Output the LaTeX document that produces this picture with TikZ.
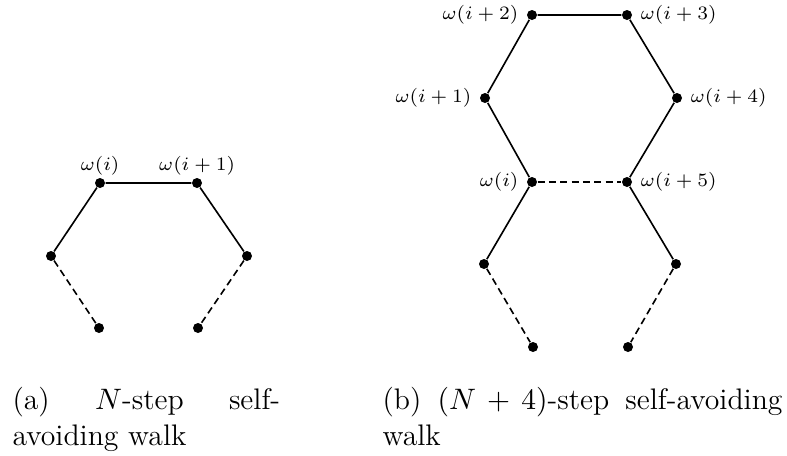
\documentclass[tikz,border=0pt]{standalone}
\usepackage{amsmath, amssymb}
\usepackage{tikz}

\begin{document}
\begin{tikzpicture}[x=0.37pt, y=-0.37pt,
  dot/.style={circle, fill, inner sep=0pt, minimum size=3.7pt},
  walk/.style={line width=0.6pt},
  gap/.style={line width=0.6pt, dash pattern=on 2.6pt off 1.6pt},
  lab/.style={font=\fontsize{7.5}{9}\selectfont, inner sep=0.5pt},
  side/.style={lab, label distance=2.3pt},
  captext/.style={anchor=north west, inner sep=0pt, align=justify, font=\fontsize{11}{13.3}\selectfont}]
\useasboundingbox (0,0) rectangle (787,455);
% (a) N-step walk
\node[dot, label={[lab]above:$\omega(i)$}] (a0) at (100,183) {};
\node[dot, label={[lab]above:$\omega(i+1)$}] (a1) at (197,183) {};
\node[dot] (a2) at (51,256) {};
\node[dot] (a3) at (247,256) {};
\node[dot] (a4) at (99,328) {};
\node[dot] (a5) at (198,328) {};
\draw[walk] (a2) -- (a0) -- (a1) -- (a3);
\draw[gap] (a2) -- (a4);
\draw[gap] (a3) -- (a5);
% (b) (N+4)-step walk
\node[dot, label={[side]left:$\omega(i)$}] (b0) at (532,182) {};
\node[dot, label={[side]left:$\omega(i+1)$}] (b1) at (485,98) {};
\node[dot, label={[side]left:$\omega(i+2)$}] (b2) at (532,15) {};
\node[dot, label={[side]right:$\omega(i+3)$}] (b3) at (627,15) {};
\node[dot, label={[side]right:$\omega(i+4)$}] (b4) at (677,98) {};
\node[dot, label={[side]right:$\omega(i+5)$}] (b5) at (627,182) {};
\node[dot] (b6) at (484,264) {};
\node[dot] (b7) at (676,264) {};
\node[dot] (b8) at (533,347) {};
\node[dot] (b9) at (628,347) {};
\draw[walk] (b0) -- (b1) -- (b2) -- (b3) -- (b4) -- (b5);
\draw[walk] (b0) -- (b6);
\draw[walk] (b5) -- (b7);
\draw[gap] (b0) -- (b5);
\draw[gap] (b6) -- (b8);
\draw[gap] (b7) -- (b9);
% captions
\node[captext, text width=99pt] (capa) at (12,387) {(a) \mbox{$N$-step} self-\linebreak avoiding walk};
\node[captext, text width=148pt] (capb) at (382,387) {(b) $(N+4)$-step self-avoiding\linebreak walk};
\end{tikzpicture}
\end{document}
